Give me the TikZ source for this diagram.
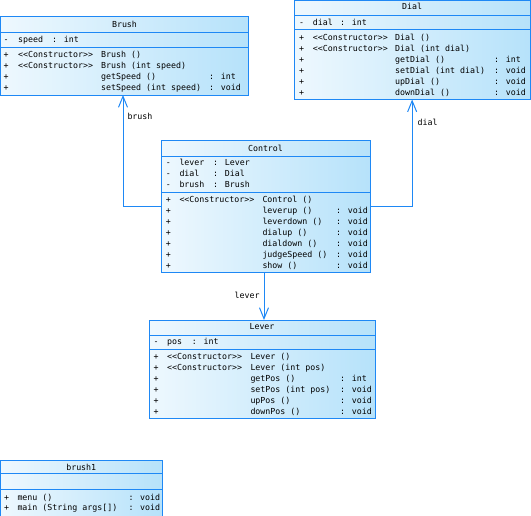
\documentclass[tikz,border=0pt]{standalone}
\usepackage{fontspec}
\usetikzlibrary{arrows.meta}
\newfontfamily\umlfont{DejaVu Sans Mono}
\definecolor{umlline}{RGB}{30,136,245}
\definecolor{umllight}{RGB}{238,248,254}
\definecolor{umlblue}{RGB}{182,226,250}
\def\ctor{<\kern0pt<Constructor>\kern0pt>}

\begin{document}
\begin{tikzpicture}[x=1pt, y=-1pt, >={Straight Barb[length=11pt, width=9pt]},
	classbox/.style={draw=umlline, line width=1pt, left color=umllight,
		right color=umlblue, anchor=north west, inner sep=0, outer sep=0},
	sepline/.style={umlline, line width=1pt},
	link/.style={umlline, line width=1pt, ->},
	txt/.style={font=\umlfont\fontsize{8.3}{10}\selectfont, inner sep=0,
		text=black, text height=6pt, text depth=.5pt, anchor=west},
	sign/.style={txt, anchor=center}]
	\useasboundingbox (0,0) rectangle (531,515);
	\def\dy{11}		% row height

	% Brush
	\begin{scope}[shift={(0.5,16.5)}]
		\def\w{248}
		\node[classbox, minimum width=\w, minimum height=78.5] (brush) at (0,0) {};
		\draw[sepline] (0,15.5) -- (\w,15.5);
		\draw[sepline] (0,31.2) -- (\w,31.2);
		\node[sign] (brushT) at (\w/2,8) {Brush};
		\node[sign] (brushS) at (5.5,23.5) {-};
		\node[txt] (brushA) at (17.5,23.5) {speed};
		\node[txt] (brushAt) at (51.5,23.5) {: int};
		\foreach \c/\n/\r [count=\i] in {\ctor/Brush ()/{}, \ctor/Brush (int speed)/{},
			{}/getSpeed ()/: int, {}/setSpeed (int speed)/: void} {
			\pgfmathsetmacro\y{38.5+(\i-1)*\dy}
			\node[sign] (brushP\i) at (5.5,\y) {+};
			\node[txt] (brushC\i) at (17.5,\y) {\c};
			\node[txt] (brushM\i) at (100.5,\y) {\n};
			\node[txt] (brushR\i) at (208.5,\y) {\r};
		}
	\end{scope}

	% Dial
	\begin{scope}[shift={(294.3,0.5)}]
		\def\w{235.7}
		\node[classbox, minimum width=\w, minimum height=99] (dial) at (0,0) {};
		\draw[sepline] (0,15.2) -- (\w,15.2);
		\draw[sepline] (0,28.8) -- (\w,28.8);
		\node[sign] (dialT) at (\w/2,6.5) {Dial};
		\node[sign] (dialS) at (7.4,22.5) {-};
		\node[txt] (dialA) at (18.4,22.5) {dial};
		\node[txt] (dialAt) at (45.7,22.5) {: int};
		\foreach \c/\n/\r [count=\i] in {\ctor/Dial ()/{}, \ctor/Dial (int dial)/{},
			{}/getDial ()/: int, {}/setDial (int dial)/: void,
			{}/upDial ()/: void, {}/downDial ()/: void} {
			\pgfmathsetmacro\y{37.3+(\i-1)*10.9}
			\node[sign] (dialP\i) at (7.4,\y) {+};
			\node[txt] (dialC\i) at (18.4,\y) {\c};
			\node[txt] (dialM\i) at (100.7,\y) {\n};
			\node[txt] (dialR\i) at (199.7,\y) {\r};
		}
	\end{scope}

	% Control
	\begin{scope}[shift={(161,140)}]
		\def\w{209}
		\node[classbox, minimum width=\w, minimum height=132] (ctl) at (0,0) {};
		\draw[sepline] (0,16) -- (\w,16);
		\draw[sepline] (0,52) -- (\w,52);
		\node[sign] (ctlT) at (\w/2,8.3) {Control};
		\foreach \a/\t [count=\i] in {lever/: Lever, dial/: Dial, brush/: Brush} {
			\pgfmathsetmacro\y{23+(\i-1)*\dy}
			\node[sign] (ctlS\i) at (7.3,\y) {-};
			\node[txt] (ctlA\i) at (18.3,\y) {\a};
			\node[txt] (ctlAt\i) at (52,\y) {\t};
		}
		\foreach \c/\n/\r [count=\i] in {\ctor/Control ()/{}, {}/leverup ()/: void,
			{}/leverdown ()/: void, {}/dialup ()/: void, {}/dialdown ()/: void,
			{}/judgeSpeed ()/: void, {}/show ()/: void} {
			\pgfmathsetmacro\y{59.5+(\i-1)*\dy}
			\node[sign] (ctlP\i) at (7.3,\y) {+};
			\node[txt] (ctlC\i) at (18.3,\y) {\c};
			\node[txt] (ctlM\i) at (101.3,\y) {\n};
			\node[txt] (ctlR\i) at (175,\y) {\r};
		}
	\end{scope}

	% Lever
	\begin{scope}[shift={(149,320)}]
		\def\w{226}
		\node[classbox, minimum width=\w, minimum height=98] (lever) at (0,0) {};
		\draw[sepline] (0,15) -- (\w,15);
		\draw[sepline] (0,29) -- (\w,29);
		\node[sign] (leverT) at (\w/2,6.7) {Lever};
		\node[sign] (leverS) at (7,21.5) {-};
		\node[txt] (leverA) at (18,21.5) {pos};
		\node[txt] (leverAt) at (42.7,21.5) {: int};
		\foreach \c/\n/\r [count=\i] in {\ctor/Lever ()/{}, \ctor/Lever (int pos)/{},
			{}/getPos ()/: int, {}/setPos (int pos)/: void,
			{}/upPos ()/: void, {}/downPos ()/: void} {
			\pgfmathsetmacro\y{36.7+(\i-1)*\dy}
			\node[sign] (leverP\i) at (7,\y) {+};
			\node[txt] (leverC\i) at (18,\y) {\c};
			\node[txt] (leverM\i) at (101.3,\y) {\n};
			\node[txt] (leverR\i) at (191,\y) {\r};
		}
	\end{scope}

	% brush1 (runs off the bottom edge)
	\begin{scope}[shift={(0.5,460)}]
		\def\w{161.5}
		\node[classbox, minimum width=\w, minimum height=60] (mainc) at (0,0) {};
		\draw[sepline] (0,13.5) -- (\w,13.5);
		\draw[sepline] (0,29) -- (\w,29);
		\node[sign] (maincT) at (\w/2,7.5) {brush1};
		\node[sign] (maincP1) at (6.2,37.5) {+};
		\node[txt] (maincM1) at (16.8,37.5) {menu ()};
		\node[txt] (maincR1) at (127.8,37.5) {: void};
		\node[sign] (maincP2) at (6.2,47.5) {+};
		\node[txt] (maincM2) at (16.8,47.5) {main (String args[])};
		\node[txt] (maincR2) at (127.8,47.5) {: void};
	\end{scope}

	% Associations
	\draw[link] (ctl.west) -| node[txt, pos=.9, xshift=4pt] (brushL) {brush}
		([xshift=-1.5pt]brush.south);
	\draw[link] (ctl.east) -| node[txt, pos=.89, xshift=5pt] (dialL) {dial}
		(dial.south);
	\draw[link] ([xshift=-1.5pt]ctl.south) -- node[txt, anchor=east, xshift=-4pt]
		(leverL) {lever} ([xshift=-1.5pt]ctl.south |- lever.north);
\end{tikzpicture}
\end{document}
